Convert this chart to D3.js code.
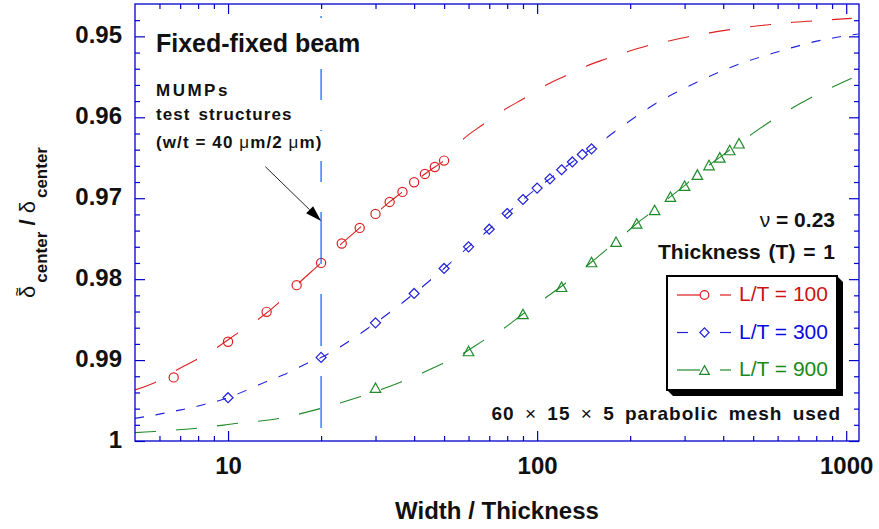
<!DOCTYPE html>
<html>
<head>
<meta charset="utf-8">
<script src="https://cdn.jsdelivr.net/npm/d3@7"></script>
<style>
  body { margin: 0; background: #fff; }
  svg { display: block; font-family: "Liberation Sans", Arial, Helvetica, sans-serif; }
</style>
</head>
<body>
<svg id="chart" width="879" height="529"></svg>
<script>
// ---- Axis set-up -------------------------------------------------------
const xDomain = [5, 1100];
const yDomain = [0.946, 1.0];          // reversed: small ratio at the top
const xMajorTicks = [10, 100, 1000];
const xMinorTicks = [6, 7, 8, 9, 20, 30, 40, 50, 60, 70, 80, 90, 200, 300, 400, 500, 600, 700, 800, 900];
const yMajorTicks = [0.95, 0.96, 0.97, 0.98, 0.99, 1.0];
const yTickLabels = ["0.95", "0.96", "0.97", "0.98", "0.99", "1"];

// ---- L/T = 100 ---------------------------------------------------------
const lt100PtsW   = [6.67, 10, 13.33, 16.67, 20, 23.33, 26.67, 30, 33.33, 36.67, 40, 43.33, 46.67, 50];
const lt100PtsVal = [0.99214, 0.98774, 0.98404, 0.98074, 0.97799, 0.97559, 0.97367, 0.97194, 0.97046, 0.96922, 0.96802, 0.96700, 0.96614, 0.96535];
const lt100CurveW   = [5, 5.88, 6.82, 7.95, 9.23, 10.79, 12.53, 14.73, 16.67, 20, 23.33, 26.67, 30, 33.33, 36.67, 40, 43.33, 46.67, 50,
                       57.3, 67.0, 78.1, 90.9, 105.5, 123.7, 144.6, 165.8, 193.5, 226.2, 263.8, 308.4, 357.9, 415.5, 488.3, 569.6, 658, 773.4, 897.6, 1042];
const lt100CurveVal = [0.99369, 0.99267, 0.99122, 0.98990, 0.98842, 0.98661, 0.98496, 0.98278, 0.98074, 0.97799, 0.97559, 0.97367, 0.97194, 0.97046, 0.96922, 0.96802, 0.96700, 0.96614, 0.96535,
                       0.96280, 0.96086, 0.95909, 0.95765, 0.95613, 0.95486, 0.95366, 0.95283, 0.95196, 0.95119, 0.95061, 0.95005, 0.94960, 0.94920, 0.94882, 0.94853, 0.94830, 0.94810, 0.94793, 0.94778];

// ---- L/T = 300 ---------------------------------------------------------
const lt300PtsW   = [10, 20, 30, 40, 50, 60, 70, 80, 90, 100, 110, 120, 130, 140, 150];
const lt300PtsVal = [0.99465, 0.98967, 0.98540, 0.98177, 0.97868, 0.97601, 0.97383, 0.97189, 0.97016, 0.96875, 0.96760, 0.96648, 0.96552, 0.96460, 0.96390];
const lt300CurveW   = [5, 7.04, 10, 13.27, 15.66, 18.18, 20, 30, 40, 50, 60, 70, 80, 90, 100, 110, 120, 130, 140, 150,
                       178.6, 240.6, 326, 442.3, 603, 818.3, 1094];
const lt300CurveVal = [0.99720, 0.99615, 0.99465, 0.99267, 0.99156, 0.99032, 0.98967, 0.98540, 0.98177, 0.97868, 0.97601, 0.97383, 0.97189, 0.97016, 0.96875, 0.96760, 0.96648, 0.96552, 0.96460, 0.96390,
                       0.96175, 0.95835, 0.95572, 0.95353, 0.95189, 0.95053, 0.94970];

// ---- L/T = 900 ---------------------------------------------------------
const lt900PtsW   = [30, 60, 90, 120, 150, 180, 210, 240, 270, 300, 330, 360, 390, 420, 450];
const lt900PtsVal = [0.99341, 0.98888, 0.98430, 0.98094, 0.97788, 0.97537, 0.97312, 0.97145, 0.96981, 0.96845, 0.96708, 0.96590, 0.96495, 0.96404, 0.96321];
const lt900CurveW   = [5, 7.94, 10.77, 14.73, 20, 26.73, 36.46, 49.72, 57.7, 66.96, 78.12, 90, 104.7, 123.7, 150, 180, 210, 240, 270, 300, 330, 360, 390, 420, 450,
                       566.6, 773.4, 1042];
const lt900CurveVal = [0.99897, 0.99843, 0.99781, 0.99719, 0.99596, 0.99452, 0.99267, 0.99040, 0.98916, 0.98760, 0.98607, 0.98430, 0.98249, 0.98051, 0.97788, 0.97537, 0.97312, 0.97145, 0.96981, 0.96845, 0.96708, 0.96590, 0.96495, 0.96404, 0.96321,
                       0.96054, 0.95753, 0.95518];

const seriesLabels = ["L/T = 100", "L/T = 300", "L/T = 900"];

// MUMPs test structure: w/t = 40 um / 2 um
const mumpsWidthRatio = 20;

// ---- Styles ------------------------------------------------------------
const AXIS = "#0000cc";
const series = [
  { label: seriesLabels[0], w: lt100PtsW, v: lt100PtsVal, cw: lt100CurveW, cv: lt100CurveVal,
    color: "#dd1f1f", text: "#cc1414", symbol: "circle",   dash: 21, period: 41,   legendDash: 23 },
  { label: seriesLabels[1], w: lt300PtsW, v: lt300PtsVal, cw: lt300CurveW, cv: lt300CurveVal,
    color: "#2020dd", text: "#0a0ae0", symbol: "diamond",  dash: 9,  period: 20.5, legendDash: 11 },
  { label: seriesLabels[2], w: lt900PtsW, v: lt900PtsVal, cw: lt900CurveW, cv: lt900CurveVal,
    color: "#1f8a2a", text: "#178a17", symbol: "triangle", dash: 21, period: 41,   legendDash: 23 }
];

const svg = d3.select("#chart");
const x = d3.scaleLog().domain(xDomain).range([135, 859]);
const y = d3.scaleLinear().domain(yDomain).range([4, 441]);
const [px0, px1] = x.range();
const [py0, py1] = y.range();

const defs = svg.append("defs");
defs.append("clipPath").attr("id", "plotArea")
  .append("rect").attr("x", px0).attr("y", py0).attr("width", px1 - px0).attr("height", py1 - py0);

// Dashes are laid out in regular vertical bands across the plot width
series.forEach((s, i) => {
  const cp = defs.append("clipPath").attr("id", "bands" + i);
  for (let bx = px0; bx < px1; bx += s.period) {
    cp.append("rect").attr("x", bx).attr("y", py0)
      .attr("width", Math.min(s.dash, px1 - bx)).attr("height", py1 - py0);
  }
});

function markerPath(type, r) {
  if (type === "circle")
    return `M${-r},0a${r},${r} 0 1,0 ${2 * r},0a${r},${r} 0 1,0 ${-2 * r},0Z`;
  if (type === "diamond")
    return `M0,${-r}L${r},0L0,${r}L${-r},0Z`;
  return `M0,${-r * 0.95}L${r * 1.05},${r * 0.95}L${-r * 1.05},${r * 0.95}Z`;
}

// ---- Curves and markers -------------------------------------------------
const line = d3.line().x(d => x(d[0])).y(d => y(d[1])).curve(d3.curveMonotoneX);

series.forEach((s, i) => {
  svg.append("path")
    .datum(s.cw.map((w, k) => [w, s.cv[k]]))
    .attr("d", line)
    .attr("clip-path", `url(#bands${i})`)
    .attr("fill", "none")
    .attr("stroke", s.color)
    .attr("stroke-width", 1.1);
});

series.forEach(s => {
  svg.append("g").attr("clip-path", "url(#plotArea)")
    .selectAll("path")
    .data(s.w.map((w, k) => [w, s.v[k]]))
    .join("path")
    .attr("transform", d => `translate(${x(d[0])},${y(d[1])})`)
    .attr("d", markerPath(s.symbol, s.symbol === "circle" ? 4.6 : 5))
    .attr("fill", "none")
    .attr("stroke", s.color)
    .attr("stroke-width", 1.2);
});

// ---- MUMPs width marker -------------------------------------------------
const xm = x(mumpsWidthRatio);
svg.append("line")
  .attr("x1", xm).attr("x2", xm)
  .attr("y1", py1 - 13).attr("y2", py0 + 12)
  .attr("stroke", "#1a6cff").attr("stroke-width", 1.3)
  .attr("stroke-dasharray", "52,30");

// ---- Annotation text ---------------------------------------------------
function withBackground(textSel, padTop, padBottom, padX) {
  const bb = textSel.node().getBBox();
  svg.insert("rect", () => textSel.node())
    .attr("x", bb.x - padX).attr("y", bb.y - padTop)
    .attr("width", bb.width + 2 * padX).attr("height", bb.height + padTop + padBottom)
    .attr("fill", "#fff");
}

const title = svg.append("text")
  .attr("x", 156).attr("y", 52)
  .attr("font-size", 25).attr("font-weight", "bold").attr("fill", "#111")
  .text("Fixed-fixed beam");
withBackground(title, 10, 12, 6);

svg.append("text")
  .attr("x", 156).attr("y", 96)
  .attr("font-size", 17).attr("font-weight", "bold").attr("fill", "#111")
  .style("letter-spacing", "2.5px")
  .text("MUMPs");
svg.append("text")
  .attr("x", 156).attr("y", 120)
  .attr("font-size", 17).attr("font-weight", "bold").attr("fill", "#111")
  .style("letter-spacing", "1.1px").style("word-spacing", "2px")
  .text("test structures");
const wt = svg.append("text")
  .attr("x", 156).attr("y", 148)
  .attr("font-size", 17).attr("font-weight", "bold").attr("fill", "#111")
  .style("letter-spacing", "1.1px");
wt.append("tspan").text("(w/t = 40 ");
wt.append("tspan").attr("font-weight", "normal").text("μ");
wt.append("tspan").text("m/2 ");
wt.append("tspan").attr("font-weight", "normal").text("μ");
wt.append("tspan").text("m)");
withBackground(wt, 2, 9, 3);

// Arrow pointing at the MUMPs line
{
  const ax0 = x(13.2), ay0 = y(0.9661);
  const ax1 = xm, ay1 = y(0.9728);
  const ang = Math.atan2(ay1 - ay0, ax1 - ax0);
  const hl = 16, hw = 5;
  const bx = ax1 - hl * Math.cos(ang), by = ay1 - hl * Math.sin(ang);
  svg.append("line").attr("x1", ax0).attr("y1", ay0).attr("x2", bx).attr("y2", by)
    .attr("stroke", "#222").attr("stroke-width", 1);
  svg.append("path")
    .attr("d", `M${ax1},${ay1}L${bx - hw * Math.sin(ang)},${by + hw * Math.cos(ang)}L${bx + hw * Math.sin(ang)},${by - hw * Math.cos(ang)}Z`)
    .attr("fill", "#000");
}

const nu = svg.append("text")
  .attr("x", 835).attr("y", 227).attr("text-anchor", "end")
  .attr("font-size", 21).attr("font-weight", "bold").attr("fill", "#111");
nu.append("tspan").attr("font-weight", "normal").text("ν");
nu.append("tspan").text(" = 0.23");

svg.append("text")
  .attr("x", 835).attr("y", 259).attr("text-anchor", "end")
  .attr("font-size", 21).attr("font-weight", "bold").attr("fill", "#111")
  .style("word-spacing", "2px")
  .text("Thickness (T) = 1");

const mesh = svg.append("text")
  .attr("x", 841).attr("y", 420).attr("text-anchor", "end")
  .attr("font-size", 19).attr("font-weight", "bold").attr("fill", "#111")
  .style("letter-spacing", "1px").style("word-spacing", "4px");
mesh.append("tspan").text("60 ");
mesh.append("tspan").attr("font-weight", "normal").text("×");
mesh.append("tspan").text(" 15 ");
mesh.append("tspan").attr("font-weight", "normal").text("×");
mesh.append("tspan").text(" 5 parabolic mesh used");

// ---- Legend --------------------------------------------------------------
{
  const lx0 = 667, ly0 = 276, lx1 = 837, ly1 = 390, sh = 6;
  const lg = svg.append("g");
  lg.append("path")
    .attr("d", `M${lx1},${ly0}L${lx1 + sh},${ly0 + sh}L${lx1 + sh},${ly1 + sh}L${lx0 + sh},${ly1 + sh}L${lx0},${ly1}Z`)
    .attr("fill", "#000");
  lg.append("rect").attr("x", lx0).attr("y", ly0).attr("width", lx1 - lx0).attr("height", ly1 - ly0)
    .attr("fill", "#fff").attr("stroke", "#000").attr("stroke-width", 2);
  series.forEach((s, i) => {
    const cy = 295 + i * 37.5;
    lg.append("line").attr("x1", 677).attr("x2", 677 + s.legendDash).attr("y1", cy).attr("y2", cy)
      .attr("stroke", s.color).attr("stroke-width", 1.2);
    lg.append("line").attr("x1", 720).attr("x2", 731).attr("y1", cy).attr("y2", cy)
      .attr("stroke", s.color).attr("stroke-width", 1.2);
    lg.append("path").attr("transform", `translate(704.5,${cy})`)
      .attr("d", markerPath(s.symbol, s.symbol === "circle" ? 4.3 : 4.6))
      .attr("fill", "#fff").attr("stroke", s.color).attr("stroke-width", 1.2);
    lg.append("text").attr("x", 739).attr("y", cy + 6)
      .attr("font-size", 21).attr("fill", s.text).text(s.label);
  });
}

// ---- Axes (ticks point inward on all four sides) -------------------------
function tidy(g) {
  g.select(".domain").remove();
  g.selectAll(".tick line").attr("stroke", AXIS).attr("stroke-width", 1.2);
}

svg.append("g").attr("transform", `translate(0,${py1})`)
  .call(d3.axisBottom(x).tickValues(xMajorTicks).tickSize(-10).tickSizeOuter(0).tickPadding(16).tickFormat(d3.format("d")))
  .call(tidy)
  .call(g => g.selectAll("text").attr("font-size", 24).attr("font-weight", "bold").attr("fill", "#111")
    .attr("font-family", "Liberation Sans, Arial, sans-serif"));
svg.append("g").attr("transform", `translate(0,${py1})`)
  .call(d3.axisBottom(x).tickValues(xMinorTicks).tickSize(-5).tickSizeOuter(0).tickFormat(""))
  .call(tidy);
svg.append("g").attr("transform", `translate(0,${py0})`)
  .call(d3.axisTop(x).tickValues(xMajorTicks).tickSize(-10).tickSizeOuter(0).tickFormat(""))
  .call(tidy);
svg.append("g").attr("transform", `translate(0,${py0})`)
  .call(d3.axisTop(x).tickValues(xMinorTicks).tickSize(-5).tickSizeOuter(0).tickFormat(""))
  .call(tidy);

const yMinor = d3.range(0.948, 0.9995, 0.002).filter(v => !yMajorTicks.some(t => Math.abs(t - v) < 1e-6));
svg.append("g").attr("transform", `translate(${px0},0)`)
  .call(d3.axisLeft(y).tickValues(yMajorTicks).tickSize(-10).tickSizeOuter(0).tickPadding(13)
    .tickFormat((d, i) => yTickLabels[i]))
  .call(tidy)
  .call(g => g.selectAll("text").attr("font-size", 24).attr("font-weight", "bold").attr("fill", "#111")
    .attr("dy", "0.25em").attr("font-family", "Liberation Sans, Arial, sans-serif"));
svg.append("g").attr("transform", `translate(${px0},0)`)
  .call(d3.axisLeft(y).tickValues(yMinor).tickSize(-5).tickSizeOuter(0).tickFormat(""))
  .call(tidy);
svg.append("g").attr("transform", `translate(${px1},0)`)
  .call(d3.axisRight(y).tickValues(yMajorTicks).tickSize(-10).tickSizeOuter(0).tickFormat(""))
  .call(tidy);
svg.append("g").attr("transform", `translate(${px1},0)`)
  .call(d3.axisRight(y).tickValues(yMinor).tickSize(-5).tickSizeOuter(0).tickFormat(""))
  .call(tidy);

svg.append("rect")
  .attr("x", px0).attr("y", py0).attr("width", px1 - px0).attr("height", py1 - py0)
  .attr("fill", "none").attr("stroke", AXIS).attr("stroke-width", 1.3);

// ---- Axis titles -----------------------------------------------------------
svg.append("text")
  .attr("x", (px0 + px1) / 2).attr("y", 519).attr("text-anchor", "middle")
  .attr("font-size", 24).attr("font-weight", "bold").attr("fill", "#111")
  .text("Width / Thickness");

// Y title laid out left-to-right in a rotated group so the tilde can sit over the first delta
{
  const gy = svg.append("g").attr("transform", `translate(35,${(py0 + py1) / 2}) rotate(-90)`);
  const yl = gy.append("text").attr("fill", "#111");
  const parts = [
    { t: "δ",      size: 22, bold: false, dy: 0,   dx: 0 },
    { t: "center", size: 17, bold: true,  dy: 12,  dx: 3 },
    { t: " / ",    size: 22, bold: true,  dy: -12, dx: 0 },
    { t: "δ",      size: 22, bold: false, dy: 0,   dx: 0 },
    { t: "center", size: 17, bold: true,  dy: 12,  dx: 3 }
  ];
  const spans = parts.map(p => yl.append("tspan")
    .attr("font-size", p.size).attr("font-weight", p.bold ? "bold" : "normal")
    .attr("dy", p.dy).attr("dx", p.dx).text(p.t));
  const widths = spans.map(s => s.node().getComputedTextLength());
  const total = d3.sum(widths) + d3.sum(parts, p => p.dx);
  yl.attr("x", -total / 2);
  gy.append("text")
    .attr("x", -total / 2 + widths[0] / 2).attr("y", -12)
    .attr("text-anchor", "middle").attr("font-size", 16).attr("fill", "#111")
    .text("~");
}
</script>
</body>
</html>
